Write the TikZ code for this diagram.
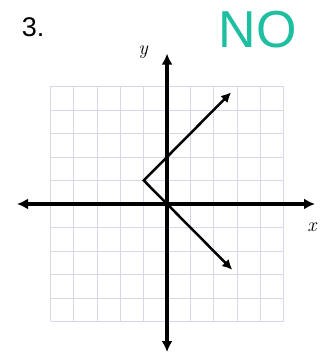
\documentclass[tikz,border=0pt]{standalone}
\usepackage{fontspec}
\newfontfamily\labelfont{Liberation Sans}
\usetikzlibrary{arrows.meta}
\definecolor{gridlav}{RGB}{218,214,234}
\definecolor{inkteal}{RGB}{30,190,160}

\begin{document}
\begin{tikzpicture}[x=23.3pt, y=23.5pt]
    \useasboundingbox (-7.17,-6.64) rectangle (6.74,8.68);

    % =================================================================
    % PART 1: GRID
    % =================================================================
    \begin{scope}
        % 10 x 10 light grid lines
        \foreach \i in {-5,...,5} {
            \draw[gridlav, line width=0.9pt] (\i,-5) -- (\i,5);
            \draw[gridlav, line width=0.9pt] (-5,\i) -- (5,\i);
        }
    \end{scope}

    % =================================================================
    % PART 2: AXES
    % =================================================================
    \coordinate (xL) at (-6.44,0);
    \coordinate (xR) at (6.35,0);
    \coordinate (yB) at (0,-6.3);
    \coordinate (yT) at (0,6.4);

    \draw[{Latex[length=11pt,width=11pt]}-{Latex[length=11pt,width=11pt]}, line width=3.2pt] (xL) -- (xR);
    \draw[{Latex[length=11pt,width=11pt]}-{Latex[length=11pt,width=11pt]}, line width=3.2pt] (yB) -- (yT);

    \node (ylab) at (-1.03,6.45) {\fontsize{20}{20}\selectfont\itshape y};
    \node (xlab) at (6.22,-1.0) {\fontsize{20}{20}\selectfont\itshape x};

    % =================================================================
    % PART 3: THE GRAPH
    % =================================================================
    \coordinate (V) at (-1,1);
    \coordinate (U) at (2.75,4.75);
    \coordinate (L) at (2.8,-2.8);

    \draw[{Latex[length=10pt,width=10pt]}-{Latex[length=10pt,width=10pt]}, line width=2.5pt] (U) -- (V) -- (L);

    % number and answer
    \node (num) at (-5.75,7.53) {\labelfont\fontsize{27}{27}\selectfont 3.};
    \node[inkteal] (ans) at (3.9,7.42) {\labelfont\fontsize{52}{52}\selectfont NO};

\end{tikzpicture}
\end{document}
